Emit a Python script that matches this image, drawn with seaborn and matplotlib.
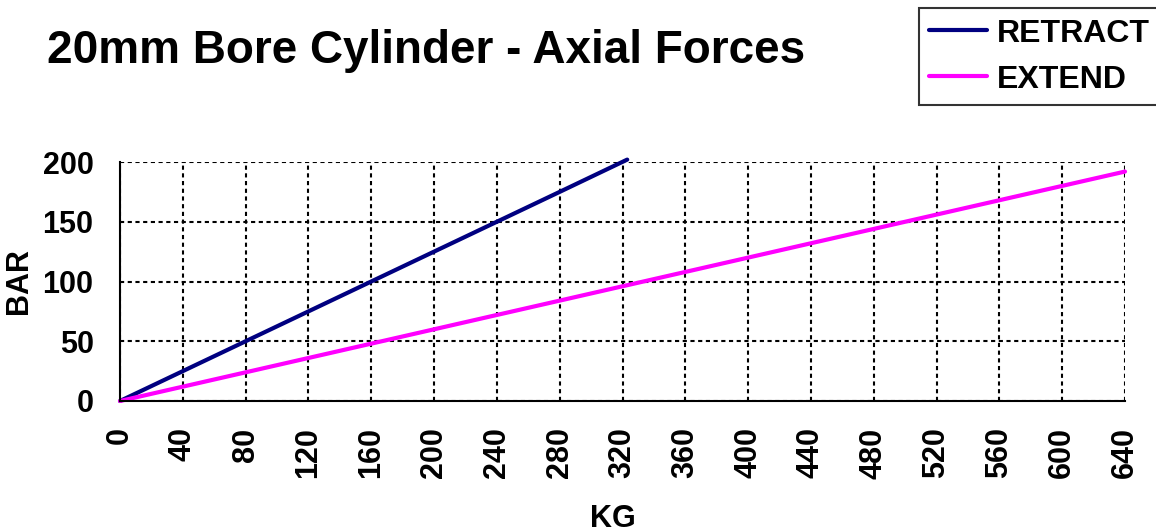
import pandas as pd
import seaborn as sns
from matplotlib import pyplot as plt

# values
retract_kg = [0, 40, 80, 120, 160, 200, 240, 280, 323]
retract_bar = [0, 25, 50, 75, 100, 125, 150, 175, 202]

extend_kg = [0, 40, 80, 120, 160, 200, 240, 280, 320, 360, 400, 440, 480, 520, 560, 600, 640]
extend_bar = [0, 12, 24, 36, 48, 60, 72, 84, 96, 108, 120, 132, 144, 156, 168, 180, 192]

x_ticks = list(range(0, 641, 40))
y_ticks = [0, 50, 100, 150, 200]

df = pd.concat([
    pd.DataFrame({'KG': retract_kg, 'BAR': retract_bar, 'series': 'RETRACT'}),
    pd.DataFrame({'KG': extend_kg, 'BAR': extend_bar, 'series': 'EXTEND'}),
])

sns.set_theme(style='white')
plt.rcParams['font.family'] = ['Liberation Sans', 'DejaVu Sans']
plt.rcParams['font.weight'] = 'bold'
plt.rcParams['text.color'] = 'black'
plt.rcParams['axes.labelcolor'] = 'black'
plt.rcParams['xtick.color'] = 'black'
plt.rcParams['ytick.color'] = 'black'

fig = plt.figure(figsize=(11.56, 5.32), dpi=100)
ax = fig.add_axes([120 / 1156, 1 - 401 / 532, (1125 - 120) / 1156, (401 - 162) / 532])

sns.lineplot(data=df, x='KG', y='BAR', hue='series', sort=False,
             palette={'RETRACT': '#000080', 'EXTEND': '#FF00FF'},
             linewidth=3, ax=ax, legend=False, clip_on=False)

ax.set_xlim(0, 640)
ax.set_ylim(0, 200)
ax.set_xticks(x_ticks)
ax.set_yticks(y_ticks)
ax.set_xticklabels([str(v) for v in x_ticks], rotation=90, fontsize=22, fontweight='bold')
ax.set_yticklabels([str(v) for v in y_ticks], fontsize=22, fontweight='bold')
ax.tick_params(axis='both', direction='out', length=7, width=1.5, color='black', pad=12)

ax.grid(True, color='black', linestyle=(0, (2, 1.7)), linewidth=1.5)
for side in ['top', 'right']:
    ax.spines[side].set_visible(False)
for side in ['left', 'bottom']:
    ax.spines[side].set_color('black')
    ax.spines[side].set_linewidth(1.5)
    ax.spines[side].set_zorder(5)

ax.set_xlabel('KG', fontsize=22, fontweight='bold')
ax.set_ylabel('BAR', fontsize=22, fontweight='bold')
ax.xaxis.set_label_coords(0.49, -0.43)
ax.yaxis.set_label_coords(-0.086, 0.5)

fig.text(47 / 1156, 1 - 63 / 532, '20mm Bore Cylinder - Axial Forces',
         fontsize=33, fontweight='bold', ha='left', va='baseline')

handles = [plt.Line2D([], [], color='#000080', linewidth=3),
           plt.Line2D([], [], color='#FF00FF', linewidth=3)]
leg = fig.legend(handles, ['RETRACT', 'EXTEND'], loc='upper right',
                 bbox_to_anchor=(1160 / 1156, 1 - 8 / 532),
                 prop={'size': 23, 'weight': 'bold'}, frameon=True, fancybox=False,
                 handlelength=1.8, handletextpad=0.3, borderpad=0.33,
                 labelspacing=0.5, borderaxespad=0)
leg.get_frame().set_edgecolor('black')
leg.get_frame().set_linewidth(1.5)

plt.savefig('out.png', dpi=100)
